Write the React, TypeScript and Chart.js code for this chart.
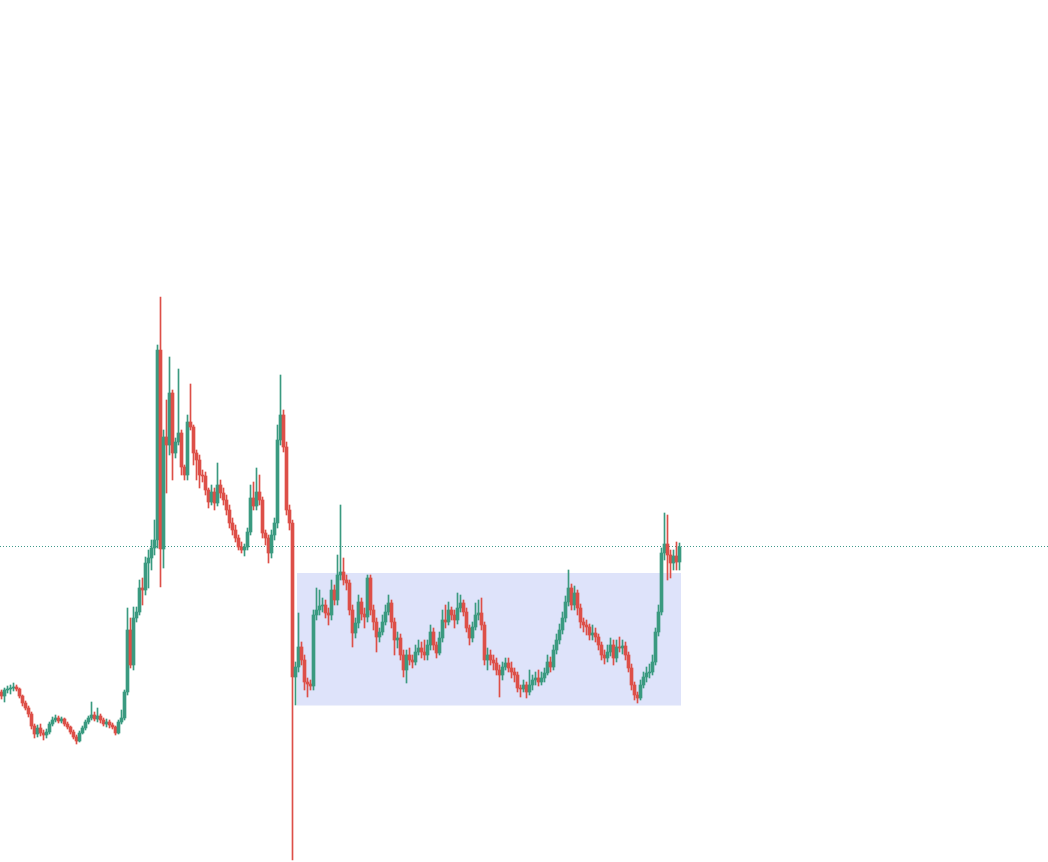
import { useEffect, useRef } from "react";
import { Chart, registerables } from "chart.js";

Chart.register(...registerables);

// ---- Data (price units) ----
const OPEN = [
  3.08,3.04,3.10,3.11,3.12,3.13,3.11,3.04,2.97,2.92,
  2.86,2.74,2.66,2.72,2.67,2.65,2.68,2.76,2.80,2.82,
  2.79,2.81,2.76,2.73,2.68,2.63,2.59,2.67,2.72,2.78,
  2.82,2.85,2.81,2.84,2.80,2.76,2.78,2.75,2.73,2.67,
  2.78,2.82,3.08,3.70,3.35,3.82,3.88,4.12,4.10,4.37,
  4.42,4.52,4.60,6.50,4.51,5.63,5.55,6.07,5.47,5.58,
  5.67,5.33,5.25,5.78,5.73,5.47,5.40,5.25,5.24,5.10,
  4.98,5.08,4.97,5.15,5.07,5.00,4.90,4.77,4.70,4.62,
  4.53,4.50,4.53,4.68,5.02,4.94,5.08,5.00,4.67,4.62,
  4.47,4.65,4.77,5.60,5.85,5.53,4.90,4.77,3.23,3.33,
  3.53,3.40,3.18,3.16,3.14,3.85,3.90,3.94,3.95,3.87,
  3.85,4.10,4.00,4.25,4.28,4.20,4.17,3.90,3.67,3.77,
  3.98,3.86,3.83,4.22,3.90,3.78,3.63,3.68,3.78,3.88,
  3.97,3.78,3.60,3.62,3.45,3.30,3.45,3.40,3.38,3.48,
  3.52,3.48,3.45,3.55,3.68,3.55,3.47,3.62,3.80,3.78,
  3.90,3.85,3.80,3.92,3.97,3.88,3.72,3.62,3.73,3.85,
  3.87,3.75,3.40,3.45,3.40,3.37,3.30,3.25,3.33,3.37,
  3.32,3.28,3.25,3.12,3.11,3.15,3.08,3.15,3.20,3.22,
  3.18,3.22,3.27,3.38,3.33,3.50,3.60,3.70,3.82,3.98,
  4.12,3.95,4.07,3.92,3.78,3.75,3.73,3.65,3.67,3.63,
  3.55,3.45,3.42,3.48,3.55,3.42,3.53,3.52,3.54,3.45,
  3.32,3.15,3.05,3.02,3.15,3.23,3.27,3.28,3.38,3.68,
  3.88,4.47,4.56,4.45,4.37,4.44,4.38,
];

const HIGH = [
  3.10,3.12,3.14,3.15,3.17,3.15,3.12,3.05,2.99,2.94,
  2.88,2.76,2.75,2.76,2.70,2.71,2.78,2.83,2.85,2.84,
  2.83,2.82,2.78,2.74,2.70,2.65,2.69,2.74,2.80,2.84,
  2.98,2.88,2.92,2.86,2.82,2.81,2.80,2.77,2.74,2.80,
  2.90,3.10,3.92,3.82,3.93,3.93,4.20,4.22,4.43,4.50,
  4.60,4.80,6.55,7.03,5.70,6.00,6.43,6.10,5.62,6.31,
  5.70,5.35,5.85,6.16,5.75,5.50,5.45,5.30,5.28,5.12,
  5.15,5.12,5.37,5.20,5.12,5.05,4.95,4.82,4.75,4.65,
  4.58,4.56,4.72,5.15,5.18,5.32,5.25,5.03,4.70,4.65,
  4.70,4.82,5.75,6.25,5.90,5.58,4.95,4.80,3.38,3.87,
  3.58,3.45,3.22,3.20,3.90,4.12,4.10,4.02,4.00,3.92,
  4.20,4.15,4.45,4.95,4.42,4.25,4.20,3.95,3.82,4.05,
  4.02,3.92,4.25,4.25,3.95,3.82,3.72,3.85,3.95,4.05,
  4.00,3.82,3.68,3.66,3.50,3.50,3.52,3.45,3.55,3.60,
  3.58,3.60,3.60,3.75,3.72,3.58,3.68,3.90,3.95,3.98,
  3.93,3.90,4.07,4.05,4.00,3.92,3.75,3.78,3.97,4.00,
  4.02,3.78,3.52,3.50,3.45,3.42,3.35,3.38,3.42,3.42,
  3.38,3.32,3.28,3.15,3.20,3.18,3.30,3.25,3.28,3.30,
  3.28,3.32,3.45,3.43,3.55,3.66,3.76,3.88,4.04,4.30,
  4.16,4.14,4.10,3.96,3.82,3.80,3.76,3.75,3.72,3.66,
  3.58,3.50,3.55,3.62,3.60,3.60,3.63,3.60,3.58,3.48,
  3.36,3.18,3.08,3.20,3.28,3.33,3.36,3.45,3.72,3.95,
  4.52,4.87,4.85,4.50,4.50,4.58,4.57,
];

const LOW = [
  3.01,2.98,3.07,3.06,3.09,3.09,3.02,2.94,2.90,2.83,
  2.71,2.62,2.63,2.64,2.60,2.62,2.66,2.74,2.78,2.77,
  2.77,2.74,2.71,2.66,2.61,2.56,2.58,2.66,2.70,2.76,
  2.80,2.79,2.78,2.77,2.74,2.73,2.72,2.71,2.65,2.66,
  2.76,2.80,3.05,3.32,3.30,3.78,3.85,3.95,4.05,4.12,
  4.30,4.45,4.52,4.13,4.32,5.07,5.45,5.20,5.42,5.55,
  5.25,5.20,5.20,5.70,5.35,5.20,5.12,5.18,5.05,4.92,
  4.95,4.90,4.94,5.02,4.95,4.85,4.72,4.65,4.58,4.50,
  4.47,4.44,4.50,4.65,4.90,4.90,4.95,4.62,4.55,4.37,
  4.42,4.60,4.72,5.55,5.48,4.85,4.70,1.40,2.95,3.28,
  3.35,3.10,3.03,3.10,3.10,3.80,3.85,3.88,3.82,3.75,
  3.80,3.95,3.95,4.20,4.15,4.10,3.85,3.53,3.62,3.72,
  3.80,3.72,3.78,3.85,3.70,3.48,3.58,3.65,3.75,3.85,
  3.72,3.45,3.52,3.40,3.23,3.17,3.35,3.32,3.35,3.45,
  3.42,3.40,3.40,3.50,3.50,3.42,3.45,3.58,3.72,3.75,
  3.80,3.72,3.76,3.88,3.84,3.68,3.55,3.58,3.70,3.80,
  3.70,3.35,3.30,3.35,3.30,3.25,3.03,3.20,3.30,3.28,
  3.22,3.18,3.08,3.03,3.08,3.02,3.05,3.10,3.15,3.14,
  3.15,3.18,3.25,3.28,3.30,3.46,3.56,3.66,3.78,3.94,
  3.90,3.90,3.85,3.72,3.68,3.65,3.60,3.60,3.58,3.50,
  3.40,3.36,3.38,3.44,3.35,3.38,3.48,3.46,3.40,3.28,
  3.10,3.00,2.97,3.00,3.12,3.18,3.22,3.25,3.35,3.64,
  3.85,4.40,4.20,4.22,4.30,4.30,4.30,
];

const CLOSE = [
  3.04,3.10,3.11,3.12,3.13,3.11,3.04,2.97,2.92,2.86,
  2.74,2.66,2.72,2.67,2.65,2.68,2.76,2.80,2.82,2.79,
  2.81,2.76,2.73,2.68,2.63,2.59,2.67,2.72,2.78,2.82,
  2.85,2.81,2.84,2.80,2.76,2.78,2.75,2.73,2.67,2.78,
  2.82,3.08,3.70,3.35,3.82,3.88,4.12,4.10,4.37,4.42,
  4.52,4.60,6.50,4.51,5.63,5.55,6.07,5.47,5.58,5.67,
  5.33,5.25,5.78,5.73,5.47,5.40,5.25,5.24,5.10,4.98,
  5.08,4.97,5.15,5.07,5.00,4.90,4.77,4.70,4.62,4.53,
  4.50,4.53,4.68,5.02,4.94,5.08,5.00,4.67,4.62,4.47,
  4.65,4.77,5.60,5.85,5.53,4.90,4.77,3.23,3.33,3.53,
  3.40,3.18,3.16,3.14,3.85,3.90,3.94,3.95,3.87,3.85,
  4.10,4.00,4.25,4.28,4.20,4.17,3.90,3.67,3.77,3.98,
  3.86,3.83,4.22,3.90,3.78,3.63,3.68,3.78,3.88,3.97,
  3.78,3.60,3.62,3.45,3.30,3.45,3.40,3.38,3.48,3.52,
  3.48,3.45,3.55,3.68,3.55,3.47,3.62,3.80,3.78,3.90,
  3.85,3.80,3.92,3.97,3.88,3.72,3.62,3.73,3.85,3.87,
  3.75,3.40,3.45,3.40,3.37,3.30,3.25,3.33,3.37,3.32,
  3.28,3.25,3.12,3.11,3.15,3.08,3.15,3.20,3.22,3.18,
  3.22,3.27,3.38,3.33,3.50,3.60,3.70,3.82,3.98,4.12,
  3.95,4.07,3.92,3.78,3.75,3.73,3.65,3.67,3.63,3.55,
  3.45,3.42,3.48,3.55,3.42,3.53,3.52,3.54,3.45,3.32,
  3.15,3.05,3.02,3.15,3.23,3.27,3.28,3.38,3.68,3.88,
  4.47,4.56,4.45,4.37,4.44,4.38,4.53,
];

// total bar slots on the time axis (future empty space included)
const TOTAL_SLOTS = 349;
const LABELS = Array.from({ length: TOTAL_SLOTS }, (_, i) => `#${i + 1}`);

// reference line (last price) and range box
const LAST_PRICE = 4.54;
const BOX_START = 98.5;
const BOX_END = 226.5;
const BOX_TOP = 4.27;
const BOX_BOTTOM = 2.945;

const Y_MIN = 1.38;
const Y_MAX = 10.0;

const UP = "#3a9a80";
const DOWN = "#dd4f48";
const BOX_FILL = "#dee3fa";
const LINE_COLOR = "#3f9a8c";

const overlayPlugin = {
  id: "overlays",
  beforeDatasetsDraw(chart: any) {
    const { ctx, scales } = chart;
    const x = scales.x;
    const y = scales.y;
    const left = x.getPixelForValue(BOX_START);
    const right = x.getPixelForValue(BOX_END);
    const top = y.getPixelForValue(BOX_TOP);
    const bottom = y.getPixelForValue(BOX_BOTTOM);
    ctx.save();
    ctx.fillStyle = BOX_FILL;
    ctx.fillRect(left, top, right - left, bottom - top);
    const ly = Math.round(y.getPixelForValue(LAST_PRICE)) + 0.5;
    ctx.strokeStyle = LINE_COLOR;
    ctx.lineWidth = 1;
    ctx.setLineDash([1, 2]);
    ctx.beginPath();
    ctx.moveTo(0, ly);
    ctx.lineTo(chart.width, ly);
    ctx.stroke();
    ctx.restore();
  },
};

export default function App() {
  const canvasRef = useRef<HTMLCanvasElement | null>(null);

  useEffect(() => {
    document.body.style.margin = "0";
    document.body.style.overflow = "hidden";
    const canvas = canvasRef.current;
    if (!canvas) return;
    const colors = CLOSE.map((c, i) => (c >= OPEN[i] ? UP : DOWN));
    const chart = new Chart(canvas, {
      type: "bar",
      data: {
        labels: LABELS,
        datasets: [
          {
            label: "body",
            data: OPEN.map((o, i) => [o, CLOSE[i]]) as any,
            backgroundColor: colors,
            borderWidth: 0,
            barThickness: 3,
            grouped: false,
            order: 1,
          } as any,
          {
            label: "wick",
            data: LOW.map((l, i) => [l, HIGH[i]]) as any,
            backgroundColor: colors,
            borderWidth: 0,
            barThickness: 1,
            grouped: false,
            order: 2,
          } as any,
        ],
      },
      options: {
        responsive: false,
        animation: false,
        devicePixelRatio: 1,
        layout: { padding: { left: 0, top: 0, bottom: 0, right: 1 } },
        plugins: {
          legend: { display: false },
          tooltip: { enabled: false },
        },
        scales: {
          x: { display: false, grid: { display: false } },
          y: { display: false, min: Y_MIN, max: Y_MAX, grid: { display: false } },
        },
      },
      plugins: [overlayPlugin],
    });
    return () => chart.destroy();
  }, []);

  return (
    <div style={{ width: 1048, height: 862, background: "#ffffff" }}>
      <canvas ref={canvasRef} width={1048} height={862} />
    </div>
  );
}
